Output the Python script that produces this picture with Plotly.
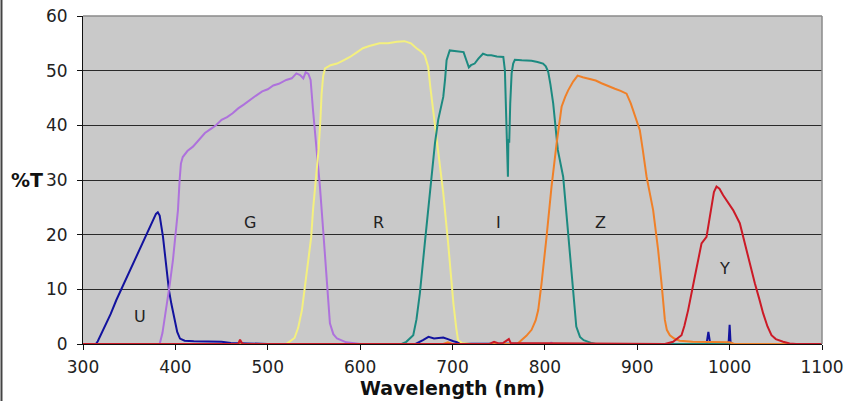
import plotly.graph_objects as go

# ---------------- data ----------------
U_wl = [300, 314, 316, 322, 330, 336, 345, 354, 363, 372, 379, 381, 383, 386.6, 389.5, 393, 395.6, 399,
        402, 405, 410, 420, 430, 440, 450, 460, 480, 500, 600, 660, 668, 674, 680, 683, 690, 695, 701, 710,
        800, 970, 975, 977, 979, 985, 997, 999, 1000, 1001, 1003, 1100]
U_t = [0, 0, 0.5, 2.6, 5.5, 8.0, 11.3, 14.7, 18.0, 21.4, 23.8, 24.1, 23.5, 19.6, 14.7, 9.9, 7.4, 4.3,
       2.2, 1.0, 0.6, 0.5, 0.5, 0.5, 0.4, 0.2, 0.1, 0, 0, 0, 0.7, 1.3, 1.0, 1.1, 1.2, 0.9, 0.5, 0.1,
       0, 0, 0, 2.2, 0, 0, 0, 0.5, 3.5, 0.3, 0, 0]

G_wl = [300, 383, 386, 390, 394, 397.4, 400, 402.8, 404.6, 406, 408, 413, 419, 425, 432, 438, 444, 450,
        456, 462, 468, 474, 480, 487, 494, 500, 506, 512, 520, 526, 531, 535, 538.5, 541, 544, 546.4, 549,
        553, 556.5, 560, 563.7, 567.3, 571, 575, 585, 600, 806, 807, 808, 1100]
G_t = [0, 0, 2, 6.2, 11, 15.4, 19.5, 24.5, 30, 33.0, 34.2, 35.3, 36.1, 37.3, 38.6, 39.3, 40.0, 41.0,
       41.5, 42.2, 43.1, 43.8, 44.6, 45.4, 46.2, 46.6, 47.3, 47.6, 48.3, 48.6, 49.5, 49.2, 48.6, 49.7, 49.4,
       48.3, 42.8, 35.5, 28.8, 20.8, 12.3, 3.8, 1.8, 1.0, 0.3, 0, 0, 0.3, 0, 0]

R_wl = [300, 520, 529, 533, 537, 540, 544, 547, 549, 552, 555, 557, 558.3, 560, 562, 568, 575, 582, 589,
        596, 603, 610, 621, 630, 640, 648, 655, 661, 666, 670, 673.7, 676, 679, 684.5, 690, 695.3, 698, 701,
        704, 706, 710, 720, 1100]
R_t = [0, 0, 1.1, 3, 6.2, 10, 14.8, 19.5, 24.5, 30, 35.5, 41, 45.8, 49, 50.4, 51, 51.3, 51.9, 52.5,
       53.3, 54.1, 54.5, 55.0, 55.0, 55.3, 55.4, 55.0, 54.1, 53.5, 52.8, 50.7, 47, 42.8, 35.5, 27.6, 18.4, 13,
       7.4, 3, 0.7, 0.2, 0, 0]

I_wl = [300, 645, 650, 657.5, 661, 664.7, 670, 675.5, 681, 684.5, 690, 692, 693.6, 697, 702, 708, 712,
        715, 717.7, 720, 724, 728, 733, 738, 742, 748, 755, 756.7, 758.5, 760, 760.5, 761.4, 762.5, 764,
        765.7, 767.5, 775, 785.6, 792, 798, 801, 803.6, 806, 809, 814, 819.8, 823, 827, 830.6, 834, 838,
        842, 850, 855, 1100]
I_t = [0, 0, 0.4, 1.6, 4.5, 9.3, 18.4, 27.6, 36.7, 41, 45.2, 48.5, 51.9, 53.7, 53.6, 53.4, 53.4,
       51.9, 50.6, 51.0, 51.3, 52.2, 53.1, 52.8, 52.8, 52.6, 52.5, 50.1, 37.9, 30.6, 37.5, 36.8, 44, 49.5,
       51.3, 52.0, 51.9, 51.8, 51.6, 51.3, 50.8, 49.8, 47.5, 44.0, 35.5, 30.6, 24.5, 17.2, 9.3, 3.2, 1.3,
       0.7, 0.2, 0, 0]

Z_wl = [300, 690, 695, 700, 770, 774.7, 780, 785.6, 790, 792.8, 796.4, 801.8, 807.2, 812.7, 818.1, 822,
        825.2, 830.6, 835.4, 841, 846.8, 855, 861.3, 868, 875.8, 882, 888.4, 893, 897.4, 902.8, 906, 910.1,
        917.2, 922.6, 926.3, 929.9, 932, 935.3, 940, 946, 960, 1000, 1005, 1100]
Z_t = [0, 0, 0.3, 0, 0, 0.7, 1.5, 2.6, 4.3, 6.2, 11.1, 19.6, 28.8, 36.7, 43.4, 45.2,
       46.4, 48.0, 49.1, 48.8, 48.6, 48.2, 47.7, 47.3, 46.7, 46.3, 45.8, 44.0, 41.6, 39.1, 35.5, 30.6,
       24.5, 17.2, 11.1, 4.4, 2.6, 1.6, 1.0, 0.6, 0.4, 0.3, 0, 0]

Y_wl = [300, 468, 470, 472, 474, 700, 740, 745, 750, 755, 758, 761, 763, 930, 938.8, 947.9, 951, 955.1,
        962.3, 969.6, 975, 978, 980.4, 983, 985.8, 989, 993, 998, 1003.8, 1011, 1014, 1018.3, 1023, 1027.3,
        1032, 1036.3, 1041, 1045.3, 1050, 1057.9, 1065, 1072, 1100]
Y_t = [0, 0, 0.8, 0.2, 0, 0, 0, 0.4, 0.1, 0.2, 0.6, 0.9, 0.2, 0, 0.4, 1.6, 3.3, 6.2,
       12.3, 18.4, 19.6, 22.8, 25.7, 27.8, 28.8, 28.4, 27.2, 26, 24.5, 22.1, 20.0, 17.2, 14.2, 11.1,
       8.3, 5.6, 3.2, 1.6, 0.9, 0.4, 0.1, 0, 0]

band_names = ["U", "G", "R", "I", "Z", "Y"]
band_colors = ["#12129E", "#AE72DC", "#F4F07E", "#1C8A80", "#F08028", "#CC1A26"]
band_label_x = [361.7, 480.7, 620, 750, 860.6, 994.8]
band_label_y = [5.1, 22.3, 22.3, 22.3, 22.3, 13.9]

x_ticks = [300, 400, 500, 600, 700, 800, 900, 1000, 1100]
y_ticks = [0, 10, 20, 30, 40, 50, 60]

series = [(U_wl, U_t), (G_wl, G_t), (R_wl, R_t), (I_wl, I_t), (Z_wl, Z_t), (Y_wl, Y_t)]

fig = go.Figure()
for (wl, t), name, col in zip(series, band_names, band_colors):
    fig.add_trace(go.Scatter(x=wl, y=t, mode="lines", name=name,
                             line=dict(color=col, width=2), hoverinfo="x+y+name"))

for name, lx, ly in zip(band_names, band_label_x, band_label_y):
    fig.add_annotation(x=lx, y=ly, xref="x", yref="y", text=name, showarrow=False,
                       font=dict(family="DejaVu Sans", size=16, color="#222"))

# %T label next to the 30 tick
fig.add_annotation(x=-0.0755, y=30, xref="paper", yref="y", text="<b>%T</b>", showarrow=False,
                   xanchor="center", yanchor="middle",
                   font=dict(family="DejaVu Sans", size=19, color="#111"))

fig.update_layout(
    width=846, height=401,
    margin=dict(l=83, r=24, t=16, b=57),
    paper_bgcolor="white", plot_bgcolor="#C9C9C9",
    showlegend=False,
    font=dict(family="DejaVu Sans", size=17, color="#222"),
    xaxis=dict(range=[300, 1100], tickvals=x_ticks, ticks="outside", ticklen=5, tickcolor="#111",
               showline=True, linecolor="#111", linewidth=1, showgrid=False, zeroline=False,
               automargin=False,
               tickfont=dict(size=17, color="#222"), ticklabelstandoff=3,
               title=dict(text="<b>Wavelength (nm)</b>", font=dict(size=19, color="#111"), standoff=4)),
    yaxis=dict(range=[0, 60], tickvals=y_ticks, ticks="outside", ticklen=5, tickcolor="#111",
               showline=True, linecolor="#111", linewidth=1, showgrid=True, gridcolor="#2a2a2a",
               gridwidth=1, zeroline=False, automargin=False,
               tickfont=dict(size=17, color="#222"), ticklabelstandoff=6),
    shapes=[
        dict(type="line", xref="paper", yref="paper", x0=0, x1=1, y0=1, y1=1,
             line=dict(color="#8a8a8a", width=1.5)),
        dict(type="line", xref="paper", yref="paper", x0=1, x1=1, y0=0, y1=1,
             line=dict(color="#8a8a8a", width=1.5)),
        dict(type="line", xref="paper", yref="paper", x0=-0.1103, x1=-0.1103, y0=-0.2, y1=1.1,
             line=dict(color="#444", width=2)),
    ],
)

fig.write_html("out.html")
